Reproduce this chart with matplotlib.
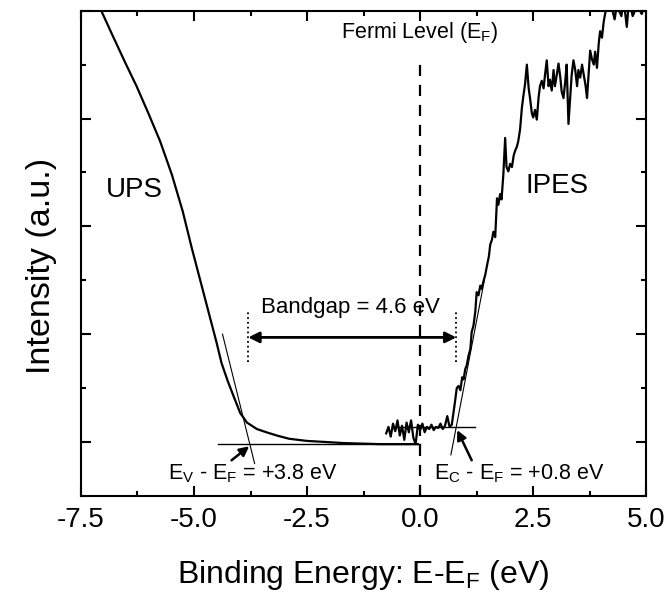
import numpy as np
import matplotlib
matplotlib.use('Agg')
import matplotlib.pyplot as plt
from matplotlib.ticker import MultipleLocator, NullFormatter

plt.rcParams['font.family'] = ['Liberation Sans', 'DejaVu Sans']
plt.rcParams['mathtext.fontset'] = 'custom'
plt.rcParams['mathtext.rm'] = 'Liberation Sans'

# UPS spectrum
ups_x = [-7.10, -7.04, -6.80, -6.50, -6.27, -6.00, -5.75, -5.49, -5.25, -5.05,
         -4.85, -4.65, -4.50, -4.39, -4.25, -4.13, -3.98, -3.83, -3.61, -3.40,
         -3.17, -2.90, -2.51, -2.10, -1.70, -1.30, -0.90, -0.50, -0.05]
ups_y = [4.06, 3.99, 3.77, 3.50, 3.30, 3.04, 2.79, 2.48, 2.14, 1.80,
         1.48, 1.16, 0.92, 0.73, 0.56, 0.43, 0.27, 0.18, 0.12, 0.09,
         0.06, 0.03, 0.01, 0.00, -0.01, -0.015, -0.02, -0.02, -0.02]

# IPES spectrum
ipes_x = [-0.75, -0.70, -0.65, -0.60, -0.55, -0.50, -0.45, -0.40, -0.35, -0.30,
          -0.25, -0.20, -0.15, -0.10, -0.05, 0.00, 0.05, 0.10, 0.15, 0.20,
          0.25, 0.30, 0.35, 0.40, 0.45, 0.50, 0.55, 0.60, 0.65, 0.70,
          0.74, 0.77, 0.81, 0.85, 0.89, 0.93, 0.96, 1.00, 1.03, 1.07,
          1.11, 1.14, 1.18, 1.22, 1.25, 1.29, 1.33, 1.36, 1.40, 1.44,
          1.48, 1.52, 1.55, 1.59, 1.62, 1.66, 1.70, 1.73, 1.77, 1.80,
          1.84, 1.88, 1.91, 1.95, 1.99, 2.03, 2.07, 2.10, 2.14, 2.17,
          2.21, 2.25, 2.28, 2.32, 2.36, 2.40, 2.43, 2.47, 2.50, 2.54,
          2.58, 2.62, 2.65, 2.69, 2.73, 2.76, 2.80, 2.84, 2.87, 2.91,
          2.95, 2.98, 3.02, 3.06, 3.10, 3.13, 3.17, 3.21, 3.24, 3.28,
          3.32, 3.35, 3.39, 3.43, 3.47, 3.50, 3.54, 3.58, 3.62, 3.66,
          3.69, 3.73, 3.76, 3.80, 3.84, 3.87, 3.91, 3.95, 3.98, 4.02,
          4.06, 4.09, 4.13, 4.20, 4.30, 4.35, 4.45, 4.50, 4.57, 4.62,
          4.70, 4.80, 4.90, 5.00]
ipes_y = [0.08, 0.14, 0.05, 0.17, 0.10, 0.20, 0.06, 0.15, 0.02, 0.18,
          0.09, 0.20, 0.04, -0.02, 0.16, 0.11, 0.17, 0.09, 0.14, 0.12,
          0.16, 0.11, 0.14, 0.13, 0.17, 0.12, 0.15, 0.24, 0.14, 0.16,
          0.28, 0.37, 0.50, 0.52, 0.48, 0.60, 0.58, 0.68, 0.71, 0.80,
          0.86, 1.02, 1.08, 1.21, 1.39, 1.36, 1.45, 1.42, 1.49, 1.55,
          1.64, 1.72, 1.83, 1.88, 1.95, 1.90, 2.26, 2.20, 2.30, 2.25,
          2.48, 2.82, 2.55, 2.51, 2.58, 2.55, 2.66, 2.70, 2.74, 2.79,
          2.90, 3.10, 3.20, 3.32, 3.50, 3.28, 3.19, 3.05, 3.01, 3.08,
          2.99, 3.20, 3.30, 3.35, 3.28, 3.40, 3.54, 3.30, 3.36, 3.26,
          3.45, 3.30, 3.40, 3.51, 3.38, 3.25, 3.19, 3.35, 3.50, 2.95,
          3.20, 3.40, 3.54, 3.45, 3.30, 3.45, 3.38, 3.50, 3.40, 3.30,
          3.19, 3.45, 3.63, 3.55, 3.50, 3.62, 3.47, 3.70, 3.81, 3.75,
          3.90, 3.97, 4.05, 4.10, 3.92, 4.05, 3.95, 4.10, 3.85, 4.10,
          3.95, 4.05, 3.97, 4.10]

# onsets
ev_onset = -3.8
ec_onset = 0.8
ups_base = -0.02
ipes_base = 0.14

fig = plt.figure(figsize=(6.69, 5.96), dpi=100)
ax = fig.add_axes([0.121, 0.168, 0.845, 0.814])

ax.plot(ups_x, ups_y, color='black', lw=1.6)
ax.plot(ipes_x, ipes_y, color='black', lw=1.6)

# baselines and tangent lines
ax.plot([-4.47, 0.0], [ups_base, ups_base], color='black', lw=1.0)
ax.plot([-4.37, -3.66], [1.0, -0.2], color='black', lw=0.8)
ax.plot([-0.6, 1.22], [ipes_base, ipes_base], color='black', lw=1.0)
ax.plot([0.68, 1.42], [-0.12, 1.5], color='black', lw=0.8)

# Fermi level
ax.plot([0, 0], [-0.5, 3.53], color='black', lw=1.6, ls=(0, (5, 4)))
ax.text(0, 3.80, 'Fermi Level (E$_\\mathregular{F}$)', ha='center', va='center', fontsize=15.5)

# band gap arrow
ax.plot([ev_onset, ev_onset], [0.74, 1.22], color='black', lw=1.3, ls=':')
ax.plot([ec_onset, ec_onset], [0.74, 1.22], color='black', lw=1.3, ls=':')
ax.annotate('', xy=(ev_onset, 0.97), xytext=(ec_onset, 0.97),
            arrowprops=dict(arrowstyle='<|-|>', color='black', lw=2.0,
                            mutation_scale=16, shrinkA=0, shrinkB=0))
ax.text(-1.55, 1.25, 'Bandgap = 4.6 eV', ha='center', va='center', fontsize=16)

ax.text(-6.31, 2.34, 'UPS', ha='center', va='center', fontsize=20)
ax.text(3.03, 2.37, 'IPES', ha='center', va='center', fontsize=20)

# onset labels
ax.annotate('', xy=(ev_onset + 0.02, ups_base - 0.02), xytext=(-4.17, -0.17),
            arrowprops=dict(arrowstyle='-|>', color='black', lw=1.8,
                            mutation_scale=14, shrinkA=0, shrinkB=0))
ax.text(-3.69, -0.29, 'E$_\\mathregular{V}$ - E$_\\mathregular{F}$ = +3.8 eV',
        ha='center', va='center', fontsize=15.5)
ax.annotate('', xy=(0.82, 0.11), xytext=(1.14, -0.17),
            arrowprops=dict(arrowstyle='-|>', color='black', lw=1.8,
                            mutation_scale=14, shrinkA=0, shrinkB=0))
ax.text(2.19, -0.29, 'E$_\\mathregular{C}$ - E$_\\mathregular{F}$ = +0.8 eV',
        ha='center', va='center', fontsize=15.5)

ax.set_xlim(-7.5, 5.0)
ax.set_ylim(-0.5, 4.0)
ax.xaxis.set_major_locator(MultipleLocator(2.5))
ax.xaxis.set_minor_locator(MultipleLocator(1.25))
ax.yaxis.set_major_locator(MultipleLocator(1.0))
ax.yaxis.set_minor_locator(MultipleLocator(0.5))
ax.yaxis.set_major_formatter(NullFormatter())
ax.set_xticks([-7.5, -5.0, -2.5, 0.0, 2.5, 5.0])
ax.set_xticklabels(['-7.5', '-5.0', '-2.5', '0.0', '2.5', '5.0'])
ax.tick_params(which='both', direction='in', top=True, right=True, width=1.5)
ax.tick_params(which='major', length=7, labelsize=20, pad=8)
ax.tick_params(which='minor', length=3.5)
for s in ax.spines.values():
    s.set_linewidth(1.5)

ax.set_xlabel('Binding Energy: E-E$_\\mathregular{F}$ (eV)', fontsize=23, labelpad=18)
ax.set_ylabel('Intensity (a.u.)', fontsize=24.5)
ax.yaxis.set_label_coords(-0.042, 0.473)

plt.savefig('out.png', dpi=100)
